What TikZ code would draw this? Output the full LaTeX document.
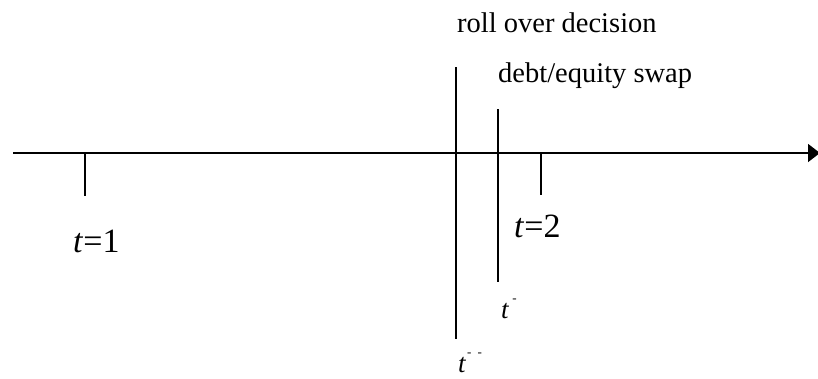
\documentclass[tikz,border=0pt]{standalone}
\usepackage{fontspec}
\setmainfont{Liberation Serif}
\usetikzlibrary{arrows.meta}
\tikzset{
  axisline/.style={line width=1.5pt},
  mark line/.style={line width=1.5pt},
  lbl/.style={anchor=base west, inner sep=0pt},
  txt/.style={lbl, font=\fontsize{28.5}{32}\selectfont},
  tlab/.style={lbl, font=\fontsize{34}{38}\selectfont},
  tsm/.style={lbl, font=\fontsize{27}{30}\selectfont},
}
\newcommand{\supdash}{\raisebox{16pt}{\fontsize{13}{13}\selectfont -}}
\begin{document}
\begin{tikzpicture}[x=1pt,y=-1pt]
\useasboundingbox (0,0) rectangle (818,378);
% axis
\coordinate (a0) at (13,153);
\coordinate (a1) at (820,153);
\draw[axisline,-{Triangle[length=12pt,width=18pt]}] (a0) -- (a1);
% ticks
\coordinate (k1a) at (85,153); \coordinate (k1b) at (85,196);
\coordinate (k2a) at (541,153); \coordinate (k2b) at (541,195);
\draw[mark line] (k1a) -- (k1b);
\draw[mark line] (k2a) -- (k2b);
% vertical lines
\coordinate (v1a) at (456,67); \coordinate (v1b) at (456,339);
\coordinate (v2a) at (498,109); \coordinate (v2b) at (498,282);
\draw[mark line] (v1a) -- (v1b);
\draw[mark line] (v2a) -- (v2b);
% texts
\node[txt] (roll) at (457,32) {roll over decision};
\node[txt] (swap) at (498,82) {debt/equity swap};
\node[tlab] (t1) at (73,252) {\textit{t}=1};
\node[tlab] (t2) at (514,237) {\textit{t}=2};
\node[tsm] (tm) at (501,318) {\textit{t}\hspace{3pt}\supdash};
\node[tsm] (tmm) at (458,372) {\textit{t}\hspace{1pt}\supdash\hspace{6pt}\supdash};
\end{tikzpicture}
\end{document}
